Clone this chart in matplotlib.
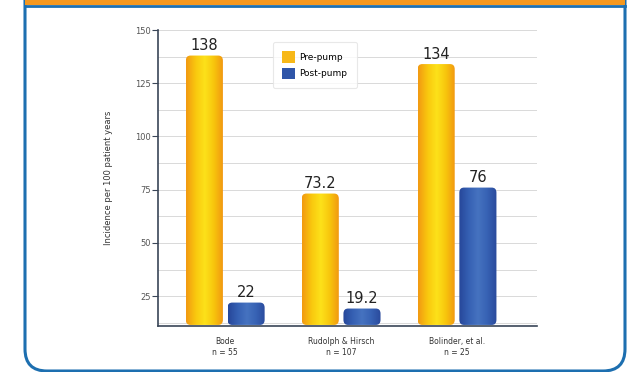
import matplotlib.pyplot as plt
import numpy as np
from matplotlib.patches import FancyBboxPatch, Rectangle
from matplotlib.colors import LinearSegmentedColormap


studies = ['Bode\nn = 55', 'Rudolph & Hirsch\nn = 107', 'Bolinder, et al.\nn = 25']
pre_pump = [138, 73.2, 134]
post_pump = [22, 19.2, 76]
pre_labels = ['138', '73.2', '134']
post_labels = ['22', '19.2', '76']
y_ticks = [25, 50, 75, 100, 125, 150]

# orange edges -> yellow centre, blue with lighter streaks
pre_cmap = LinearSegmentedColormap.from_list('pre', ['#f29a12', '#f9c80e', '#fde21a', '#f7c40c', '#f19512'])
post_cmap = LinearSegmentedColormap.from_list('post', ['#27479a', '#3560b3', '#4673c0', '#3762b4', '#2a4a9c'])

fig = plt.figure(figsize=(6.4, 3.72), dpi=100)

# frame around the chart, on a background axes
bg = fig.add_axes([0, 0, 1, 1], zorder=-1)
bg.set_xlim(0, 640)
bg.set_ylim(372, 0)
bg.axis('off')
bg.add_patch(FancyBboxPatch((25, -40), 600, 411,
                            boxstyle='round,pad=0,rounding_size=22',
                            facecolor='white', edgecolor='#1d6fb0', linewidth=2.2))
bg.add_patch(Rectangle((25, 0), 600, 4.5, facecolor='#f5981f', edgecolor='none'))
bg.plot([25, 625], [5.5, 5.5], color='#1d6fb0', linewidth=2)

ax = fig.add_axes([158 / 640, 1 - 326 / 372, 379 / 640, 296 / 372], zorder=1)
ax.set_facecolor('none')

x = np.arange(len(studies))
w = 0.32
gap = 0.02
bars_pre = ax.bar(x - w / 2 - gap, pre_pump, w, bottom=0, color='#f7b818', zorder=3, label='Pre-pump')
bars_post = ax.bar(x + w / 2 + gap, post_pump, w, bottom=0, color='#2f55a8', zorder=3, label='Post-pump')

grad = np.linspace(0, 1, 64).reshape(1, -1)
for bars, cmap in [(bars_pre, pre_cmap), (bars_post, post_cmap)]:
    for b in bars:
        bx = b.get_x()
        bw, bh = b.get_width(), b.get_height()
        b.set_visible(False)
        rb = FancyBboxPatch((bx, 11.5), bw, bh - 11.5,
                            boxstyle='round,pad=0,rounding_size=0.04',
                            mutation_aspect=60, facecolor='none',
                            edgecolor='none', zorder=3)
        ax.add_patch(rb)
        im = ax.imshow(grad, cmap=cmap, aspect='auto', zorder=3,
                       extent=(bx, bx + bw, 11.5, bh), interpolation='bicubic')
        im.set_clip_path(rb)

for i in range(len(studies)):
    ax.text(x[i] - w / 2 - gap, pre_pump[i] + 1, pre_labels[i], ha='center', va='bottom',
            fontsize=10.5, color='#222222', zorder=4)
    ax.text(x[i] + w / 2 + gap, post_pump[i] + 1, post_labels[i], ha='center', va='bottom',
            fontsize=10.5, color='#222222', zorder=4)

ax.set_xlim(-0.58, 2.69)
ax.set_ylim(11, 150)
ax.set_yticks(y_ticks)
ax.set_yticklabels([str(t) for t in y_ticks], fontsize=6, color='#555555')
ax.set_yticks(np.arange(12.5, 150, 25), minor=True)
ax.tick_params(axis='y', which='major', length=4, width=0.8, color='#3a4658', pad=1)
ax.tick_params(axis='y', which='minor', length=0)
ax.grid(axis='y', which='both', color='#d9d9d9', linewidth=0.7, zorder=0)

ax.set_xticks(x)
ax.set_xticklabels(studies, fontsize=5.5, color='#333333', linespacing=1.2)
ax.tick_params(axis='x', length=0, pad=8)

ax.set_ylabel('Incidence per 100 patient years', fontsize=6, color='#333333', labelpad=16)

for side in ['top', 'right']:
    ax.spines[side].set_visible(False)
for side in ['left', 'bottom']:
    ax.spines[side].set_color('#3a4658')
    ax.spines[side].set_linewidth(1.2)

leg = ax.legend(handles=[bars_pre, bars_post], loc='upper center', bbox_to_anchor=(0.414, 0.975),
                fontsize=6.5, frameon=True, handlelength=1.4, handleheight=1.6,
                borderpad=1.0, labelspacing=0.55, handletextpad=0.5)
leg.get_frame().set_edgecolor('#e3e3e3')
leg.get_frame().set_linewidth(0.8)
for h, c in zip(leg.legend_handles, ['#f7b818', '#2f55a8']):
    h.set_visible(True)
    h.set_facecolor(c)

fig.savefig('out.png', dpi=100)
